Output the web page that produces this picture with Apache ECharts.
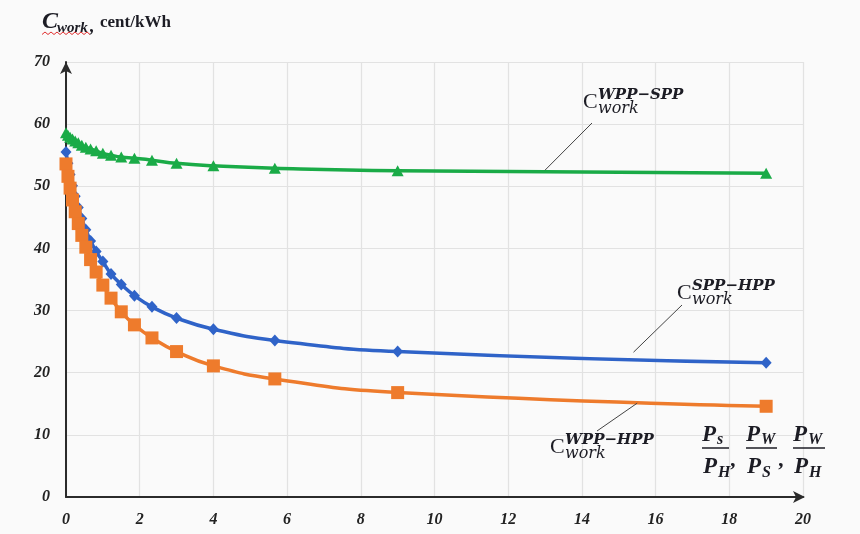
<!DOCTYPE html>
<html><head><meta charset="utf-8">
<script src="https://cdn.jsdelivr.net/npm/echarts@6/dist/echarts.min.js"></script>
<style>html,body{margin:0;padding:0;background:#fafafa}#c{width:860px;height:534px}</style>
</head><body><div id="c"></div>
<script>
// Power ratio values (x) shared by all three curves
const ratios = [0, 0.053, 0.111, 0.176, 0.25, 0.333, 0.429, 0.538, 0.667, 0.818, 1.0, 1.222, 1.5, 1.857, 2.333, 3.0, 4.0, 5.667, 9.0, 19.0];
// C_work^{WPP-SPP}, cent/kWh
const wppSpp = [58.6, 58.2, 57.9, 57.6, 57.3, 57.0, 56.6, 56.3, 56.0, 55.7, 55.3, 55.0, 54.7, 54.5, 54.2, 53.7, 53.3, 52.9, 52.5, 52.1];
// C_work^{SPP-HPP}
const sppHpp = [55.5, 53.7, 51.9, 50.1, 48.4, 46.6, 44.8, 43.0, 41.2, 39.5, 37.9, 35.9, 34.2, 32.4, 30.6, 28.8, 27.0, 25.2, 23.4, 21.6];
// C_work^{WPP-HPP}
const wppHpp = [53.6, 51.6, 49.7, 47.8, 45.9, 44.0, 42.1, 40.2, 38.2, 36.2, 34.1, 32.0, 29.8, 27.7, 25.6, 23.4, 21.1, 19.0, 16.8, 14.6];
const xTicks = [0, 2, 4, 6, 8, 10, 12, 14, 16, 18, 20];
const yTicks = [0, 10, 20, 30, 40, 50, 60, 70];
// annotation anchor points on curves (data coords)
const leaderWppSpp = [13.0, 52.6];
const leaderSppHpp = [15.4, 23.3];
const leaderWppHpp = [15.5, 15.1];

const pair = (xs, ys) => xs.map((x, i) => [x, ys[i]]);
const chart = echarts.init(document.getElementById('c'), null, {renderer: 'canvas'});
const labelFont = {fontFamily: '"Liberation Serif"', fontStyle: 'italic', fontWeight: 'bold', fontSize: 16, color: '#222'};

const series = [
  {name: 'WPP-SPP', data: pair(ratios, wppSpp), color: '#1aab47', symbol: 'triangle', symbolSize: [12, 11]},
  {name: 'SPP-HPP', data: pair(ratios, sppHpp), color: '#2f63c8', symbol: 'diamond', symbolSize: [11, 12]},
  {name: 'WPP-HPP', data: pair(ratios, wppHpp), color: '#ee7b2c', symbol: 'rect', symbolSize: 13}
].map(s => ({
  type: 'line', name: s.name, data: s.data, smooth: 0.5,
  symbol: s.symbol, symbolSize: s.symbolSize, showSymbol: true,
  lineStyle: {color: s.color, width: 3.5}, itemStyle: {color: s.color},
  emphasis: {disabled: true}, animation: false
}));

chart.setOption({
  backgroundColor: '#fafafa',
  animation: false,
  grid: {left: 66, right: 57, top: 62, bottom: 37},
  xAxis: {
    type: 'value', min: 0, max: 20, interval: 2,
    axisLine: {show: true, onZero: false, symbol: ['none', 'arrow'], symbolSize: [9, 12], symbolOffset: [0, 2], lineStyle: {color: '#2b2b2b', width: 2}},
    axisTick: {show: false},
    axisLabel: Object.assign({margin: 15, formatter: v => xTicks.includes(v) ? String(v) : ''}, labelFont),
    splitLine: {show: true, lineStyle: {color: '#e2e2e2', width: 1.2}}
  },
  yAxis: {
    type: 'value', min: 0, max: 70, interval: 10,
    axisLine: {show: true, onZero: false, symbol: ['none', 'arrow'], symbolSize: [9, 12], symbolOffset: [0, 0], lineStyle: {color: '#2b2b2b', width: 2}},
    axisTick: {show: false},
    axisLabel: Object.assign({margin: 16, formatter: v => yTicks.includes(v) ? String(v) : ''}, labelFont),
    splitLine: {show: true, lineStyle: {color: '#e2e2e2', width: 1.2}}
  },
  series: series
});

function T(x, y, text, font, align) {
  return {type: 'text', z: 100, x: x, y: y, silent: true,
    style: {text: text, font: font, fill: '#1c1c24', textAlign: align || 'left', textVerticalAlign: 'middle'}};
}
const serifBI = s => 'italic bold ' + s + 'px "Liberation Serif"';
const mathC = '22px "Liberation Serif"';
const supF = 'italic bold 15px "DejaVu Serif"';
const subF = 'italic 16px "DejaVu Serif"';

function annotation(cx, cy, sup, anchorPx, labelPt) {
  return [
    T(cx, cy, 'C', mathC),
    T(cx + 15, cy - 7, sup, supF),
    T(cx + 15, cy + 7, 'work', subF),
    {type: 'line', z: 90, silent: true, shape: {x1: labelPt[0], y1: labelPt[1], x2: anchorPx[0], y2: anchorPx[1]},
     style: {stroke: '#444', lineWidth: 1}}
  ];
}

const p1 = chart.convertToPixel({gridIndex: 0}, leaderWppSpp);
const p2 = chart.convertToPixel({gridIndex: 0}, leaderSppHpp);
const p3 = chart.convertToPixel({gridIndex: 0}, leaderWppHpp);

let els = [];
// title
els.push(T(42, 22, 'C', serifBI(24)));
els.push(T(57, 28, 'work', serifBI(15)));
els.push(T(90, 27, ',', serifBI(18)));
els.push(T(100, 23, 'cent/kWh', 'bold 17px "Liberation Serif"'));
// red wavy underline
let wave = [];
for (let i = 0; i <= 16; i++) wave.push([42 + i * 3, i % 2 ? 32 : 34.5]);
els.push({type: 'polyline', z: 100, silent: true, shape: {points: wave}, style: {stroke: '#e03030', lineWidth: 1, fill: null}});

els = els.concat(annotation(583, 102, 'WPP\u2212SPP', p1, [592, 123]));
els = els.concat(annotation(677, 293, 'SPP\u2212HPP', p2, [682, 305]));
els = els.concat(annotation(550, 447, 'WPP\u2212HPP', p3, [597, 431]));

// fraction axis title
function frac(x0, w, numSub, denSub, comma) {
  const out = [];
  out.push(T(x0, 435, 'P', serifBI(23)));
  out.push(T(x0 + 15, 440, numSub, serifBI(16)));
  out.push({type: 'line', z: 100, silent: true, shape: {x1: x0, y1: 448, x2: x0 + w, y2: 448}, style: {stroke: '#1c1c24', lineWidth: 1.5}});
  out.push(T(x0 + 1, 467, 'P', serifBI(23)));
  out.push(T(x0 + 16, 473, denSub, serifBI(16)));
  if (comma) out.push(T(x0 + w + 2, 460, ',', serifBI(22)));
  return out;
}
els = els.concat(frac(702, 27, 's', 'H', true));
els = els.concat(frac(746, 31, 'W', 'S', true));
els = els.concat(frac(793, 32, 'W', 'H', false));

chart.setOption({graphic: {elements: els}});
</script>
</body></html>
